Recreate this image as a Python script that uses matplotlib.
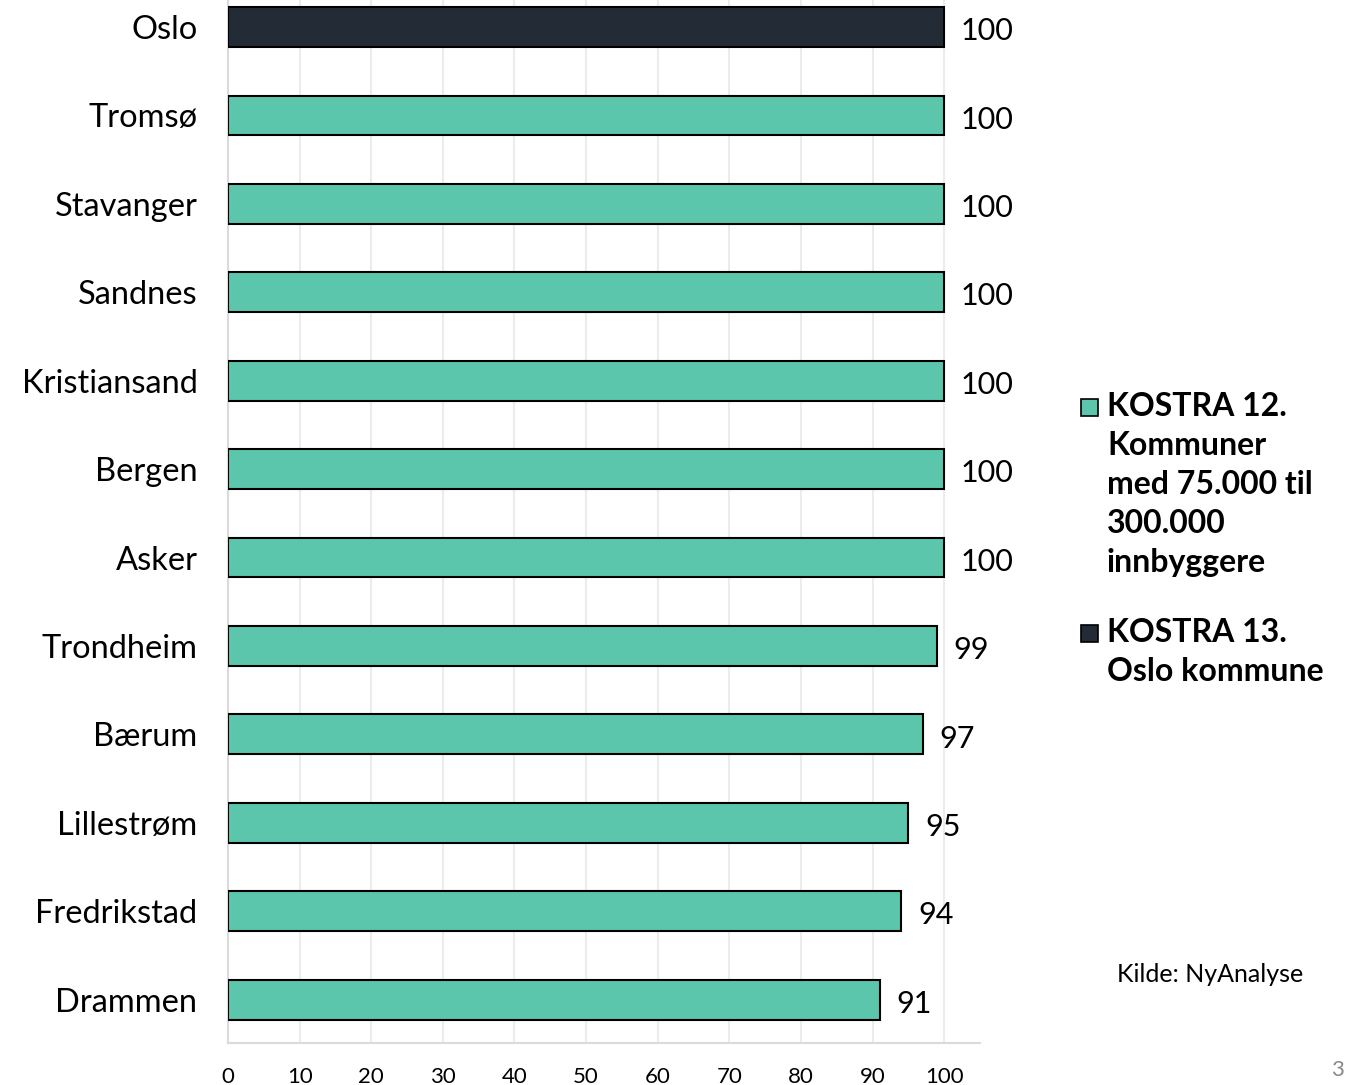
import numpy as np
import matplotlib.pyplot as plt
from matplotlib.patches import Rectangle

#### DATA

kommuner = ['Oslo', 'Tromsø', 'Stavanger', 'Sandnes', 'Kristiansand', 'Bergen',
            'Asker', 'Trondheim', 'Bærum', 'Lillestrøm', 'Fredrikstad', 'Drammen']
verdier = [100, 100, 100, 100, 100, 100, 100, 99, 97, 95, 94, 91]
gruppe = ['oslo'] + ['k12'] * 11

legend_labels = ['KOSTRA 12.\nKommuner\nmed 75.000 til\n300.000\ninnbyggere',
                 'KOSTRA 13.\nOslo kommune']
xticks = list(range(0, 101, 10))

#### STYLE

clr_k12 = '#5BC6AB'
clr_oslo = '#232B36'
plt.rcParams['font.family'] = ['Lato', 'DejaVu Sans']

#### PLOT

fg = plt.figure(figsize=(13.45, 10.85), dpi=100)
ax = fg.add_axes([228/1345, 42/1085, (980-228)/1345, 1043/1085])

n = len(kommuner)
ypos = np.arange(n)[::-1]
colors = [clr_oslo if g == 'oslo' else clr_k12 for g in gruppe]

bars = ax.barh(ypos, verdier, height=0.45, color=colors, edgecolor='black',
               linewidth=1.5, zorder=3)
lbls = ax.bar_label(bars, labels=[str(v) for v in verdier], padding=12, fontsize=22)
for t in lbls:
    t.xyann = (12, -3)

ax.set_xlim(0, 105)
ax.set_ylim(-0.49, n - 1 + 0.305)
ax.set_xticks(xticks)
ax.set_xticklabels([str(t) for t in xticks], fontsize=16)
ax.set_yticks(ypos)
ax.set_yticklabels(kommuner, fontsize=23.5)
ax.tick_params(axis='y', length=0, pad=22)
ax.tick_params(axis='x', length=0, pad=17)

ax.grid(axis='x', color='#ECECEC', linewidth=1.5, zorder=0)
for s in ['top', 'right']:
    ax.spines[s].set_visible(False)
for s in ['left', 'bottom']:
    ax.spines[s].set_color('#DADADA')
    ax.spines[s].set_linewidth(1.5)

# legend drawn by hand so that the box sits on the first line
W, H = 1345, 1085
leg_items = [(clr_k12, legend_labels[0], 392), (clr_oslo, legend_labels[1], 618)]
for c, lab, ytop in leg_items:
    fg.patches.append(Rectangle((1081/W, 1 - (ytop + 24)/H), 17/W, 17/H,
                                transform=fg.transFigure, facecolor=c,
                                edgecolor='black', linewidth=1.2))
    fg.text(1107/W, 1 - ytop/H, lab, fontsize=23, fontweight='bold',
            va='top', ha='left', linespacing=1.42)

fg.text(1117/W, 1 - 975/H, 'Kilde: NyAnalyse', fontsize=18, va='center', ha='left')
fg.text(1331/W, 1 - 1070/H, '3', fontsize=16, color='#888888', va='center', ha='left')

plt.savefig('out.png', dpi=100)
